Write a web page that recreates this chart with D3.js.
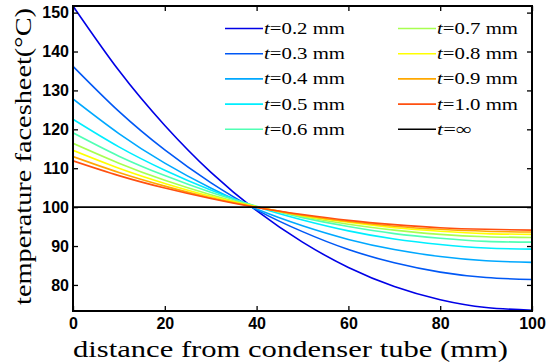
<!DOCTYPE html>
<html><head><meta charset="utf-8">
<script src="https://cdn.jsdelivr.net/npm/d3@7"></script>
<style>
body{margin:0;background:#fff;}
svg{display:block;}
</style></head>
<body>
<svg id="c" width="546" height="364"></svg>
<script>
// ---- data ----
const xs = [0,10,20,30,40,50,60,70,80,90,100];
const labels = ["0.2","0.3","0.4","0.5","0.6","0.7","0.8","0.9","1.0"];
const t02 = [151.7,135.1,121.0,109.0,99.1,91.0,84.5,79.6,76.2,74.2,73.5];
const t03 = [136.2,124.6,114.7,106.3,99.3,93.7,89.1,85.7,83.3,81.9,81.4];
const t04 = [127.8,118.9,111.3,104.9,99.5,95.2,91.7,89.1,87.3,86.2,85.8];
const t05 = [122.6,115.5,109.5,104.4,100.1,96.7,93.9,91.8,90.4,89.5,89.2];
const t06 = [119.1,113.1,108.1,103.8,100.2,97.3,95.0,93.2,92.0,91.2,91.0];
const t07 = [116.4,111.3,106.9,103.2,100.1,97.6,95.6,94.1,93.0,92.4,92.2];
const t08 = [114.6,110.0,106.1,102.8,100.1,97.8,96.1,94.7,93.8,93.2,93.0];
const t09 = [113.0,108.9,105.4,102.4,100.0,97.9,96.3,95.1,94.3,93.8,93.6];
const t10 = [111.9,108.1,104.9,102.2,99.9,98.1,96.6,95.5,94.7,94.3,94.1];
const tInf = [100,100,100,100,100,100,100,100,100,100,100];
const colors = ["#0000e6","#0058f5","#00a8ff","#00eeff","#50ffb4","#a8ff50","#ffff00","#ffa800","#ff5010"];
const xTicks = [0,20,40,60,80,100];
const yTicks = [80,90,100,110,120,130,140,150];

const series = [t02,t03,t04,t05,t06,t07,t08,t09,t10];

// ---- layout ----
const L=73,R=532,T=6,B=311;
const SERIF = "Liberation Serif, Times New Roman, serif";
const svg = d3.select("#c");
const x = d3.scaleLinear().domain([0,100]).range([L,R]);
const y = d3.scaleLinear().domain([73.3,151.7]).range([B,T]);

svg.append("defs").append("clipPath").attr("id","clip")
  .append("rect").attr("x",L).attr("y",T).attr("width",R-L).attr("height",B-T);

const line = d3.line().x((d,i)=>x(xs[i])).y(d=>y(d)).curve(d3.curveNatural);
const g = svg.append("g").attr("clip-path","url(#clip)");
series.forEach((s,i)=>{
  g.append("path").attr("d",line(s)).attr("fill","none")
   .attr("stroke",colors[i]).attr("stroke-width",1.6);
});
g.append("path").attr("d",line(tInf)).attr("fill","none").attr("stroke","#000").attr("stroke-width",1.6);

// axes
const ax = (sel)=>{sel.select(".domain").remove(); sel.selectAll("line").attr("stroke","#000").attr("stroke-width",1.3);};
svg.append("g").attr("transform",`translate(0,${B})`)
  .call(d3.axisBottom(x).tickValues(xTicks).tickSizeInner(-5).tickSizeOuter(0).tickPadding(7)).call(ax);
svg.append("g").attr("transform",`translate(0,${T})`)
  .call(d3.axisTop(x).tickValues(xTicks).tickSizeInner(-5).tickSizeOuter(0).tickFormat("")).call(ax);
svg.append("g").attr("transform",`translate(${L},0)`)
  .call(d3.axisLeft(y).tickValues(yTicks).tickSizeInner(-5).tickSizeOuter(0).tickPadding(4)).call(ax);
svg.append("g").attr("transform",`translate(${R},0)`)
  .call(d3.axisRight(y).tickValues(yTicks).tickSizeInner(-5).tickSizeOuter(0).tickFormat("")).call(ax);
svg.selectAll(".tick text").attr("font-family","Liberation Sans, Arial, sans-serif")
  .attr("font-size",16).attr("font-weight","bold").attr("fill","#000");

svg.append("rect").attr("x",L).attr("y",T).attr("width",R-L).attr("height",B-T)
  .attr("fill","none").attr("stroke","#000").attr("stroke-width",2);

// legend
const leg = svg.append("g").attr("font-family",SERIF).attr("font-size",17);
const entries = labels.map((l,i)=>({lab:l, c:colors[i]})).concat([{lab:null,c:"#000"}]);
entries.forEach((e,i)=>{
  const col = i<5?0:1, row = i%5;
  const lx = col===0?225:398, ly = 28.5+row*25.2;
  leg.append("line").attr("x1",lx).attr("x2",lx+38).attr("y1",ly).attr("y2",ly)
    .attr("stroke",e.c).attr("stroke-width",1.6);
  const t = leg.append("text").attr("x",lx+39).attr("y",ly+5.5)
    .attr("textLength", e.lab ? 81 : 35).attr("lengthAdjust","spacingAndGlyphs");
  t.append("tspan").attr("font-style","italic").text("t");
  if(e.lab) t.append("tspan").text("=" + e.lab + " mm");
  else t.append("tspan").text("=∞");
});

// axis titles
svg.append("text").attr("x",73).attr("y",357)
  .attr("font-family",SERIF).attr("font-size",24)
  .attr("textLength",435).attr("lengthAdjust","spacingAndGlyphs")
  .text("distance from condenser tube (mm)");
svg.append("text").attr("transform","translate(31,305) rotate(-90)")
  .attr("font-family",SERIF).attr("font-size",24)
  .attr("textLength",297).attr("lengthAdjust","spacingAndGlyphs")
  .text("temperature facesheet(°C)");
</script>
</body></html>
